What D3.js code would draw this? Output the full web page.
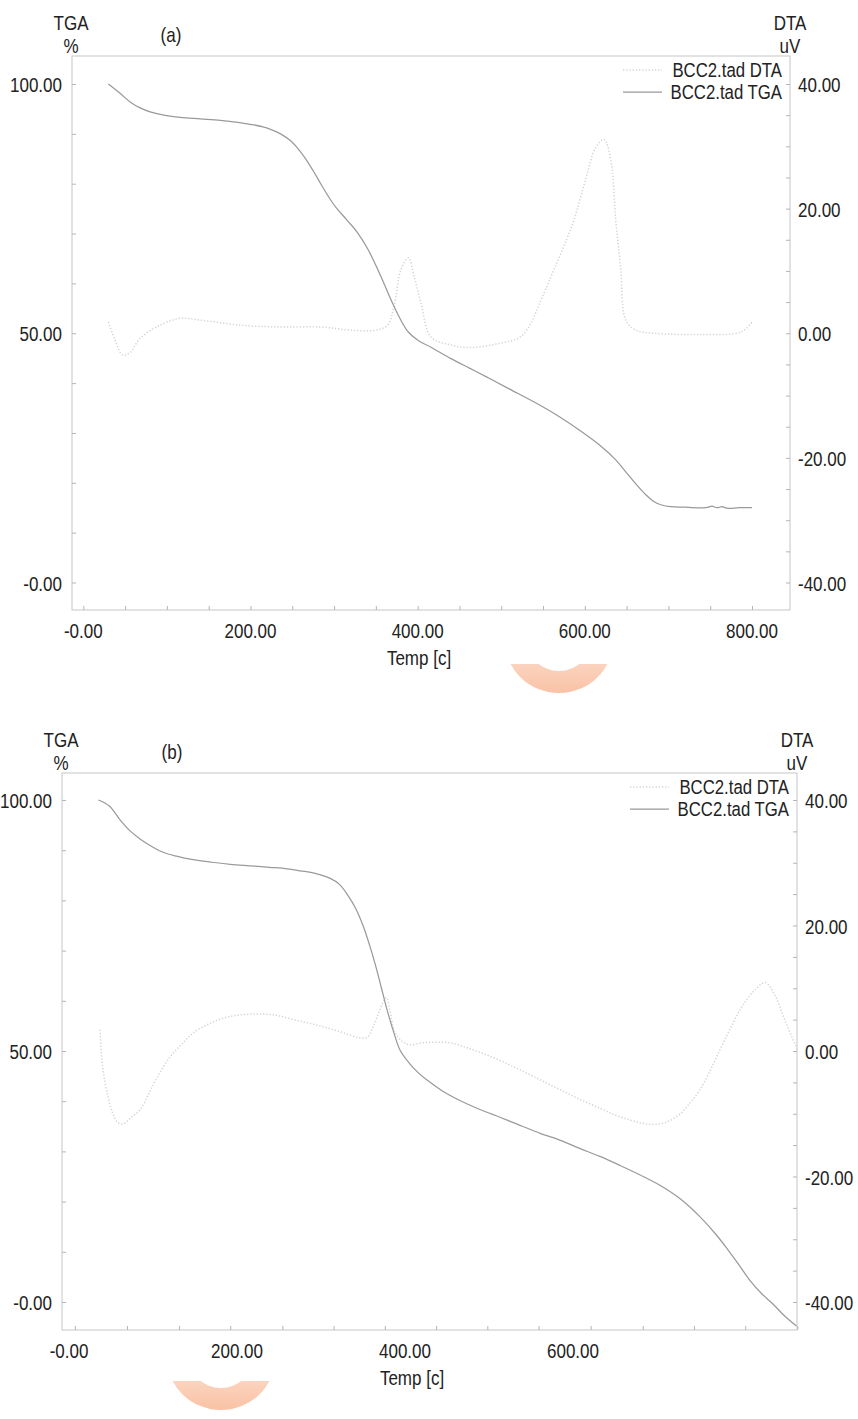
<!DOCTYPE html>
<html><head><meta charset="utf-8">
<script src="https://cdn.jsdelivr.net/npm/d3@7"></script>
<style>body{margin:0;background:#fff;} svg{display:block;}</style>
</head><body><svg id="c" width="858" height="1419"></svg>
<script>
// ---------- Panel (a) data ----------
const tempTgaA = [30,45,56,68,80,98,116,140,164,185,200,215,224,236,248,257,266,275,284,293,302,316,328,340,355,370,380,389,402,416,440,462,484,510,547,570,595,619,637,649,661,673,682,691,703,720,745,752,758,764,770,785,800];
const tgaA     = [100,98.0,96.4,95.2,94.4,93.7,93.3,93.0,92.7,92.3,91.9,91.4,90.9,90.0,88.6,87.0,85.0,82.6,80.0,77.5,75.3,72.6,70.2,67.0,61.8,56.0,52.6,50.2,48.4,47.2,44.9,43.0,41.1,38.8,35.5,33.2,30.4,27.4,24.6,22.2,19.8,17.6,16.3,15.6,15.2,15.1,15.0,15.3,15.0,15.2,14.9,15.0,15.0];
const tempDtaA = [30,38,47,56,68,92,116,140,188,236,284,320,350,364,372,380,389,396,404,416,440,463,499,523,535,544,553,563,575,587,601,613,623,631,637,643,649,661,683,739,787,800];
const dtaA     = [1.8,-1.1,-3.5,-3.1,-0.8,1.3,2.4,2.1,1.3,1.0,1.0,0.5,0.5,1.3,4.5,10.2,12.1,9.0,4.8,-0.6,-1.9,-2.3,-1.6,-0.6,1.5,4.2,7.0,10.2,14.0,18.2,24.7,29.8,31.1,27.9,18.2,10.2,2.1,0.5,0.0,-0.2,0.2,1.8];
const xLabelsA = [0,200,400,600,800];
const xTickTextA = ["-0.00","200.00","400.00","600.00","800.00"];
const xMinorA = [0,50,100,150,200,250,300,350,400,450,500,550,600,650,700,750,800];

// ---------- Panel (b) data ----------
const tempTgaB = [35,48,61,73,85,98,112,128,144,170,192,215,239,260,275,293,311,322,332,341,350,358,365,372,379,387,394,405,415,427,445,466,490,513,537,561,585,608,632,656,680,704,728,751,770,784,798,811,825,838,852,866];
const tgaB     = [100,98.8,96.0,93.8,92.2,90.8,89.6,88.8,88.2,87.6,87.2,86.9,86.6,86.3,85.9,85.4,84.4,83.2,81.0,78.5,75.0,71.0,67.0,62.5,58.0,53.5,50.2,47.6,45.8,44.1,42.0,40.1,38.3,36.8,35.2,33.6,32.2,30.6,29.0,27.2,25.3,23.2,20.5,17.0,13.5,10.5,7.3,4.2,1.6,-0.4,-2.8,-4.8];
const tempDtaB = [37,40,46,52,58,65,73,85,95,105,120,135,148,168,188,207,227,247,267,287,307,327,346,355,362,368,374,378,382,388,397,406,421,437,454,470,489,513,537,561,585,608,632,650,668,682,696,712,726,738,751,763,775,787,799,808,817,829,840,852,867];
const dtaB     = [3.4,-2.5,-7.0,-9.9,-11.4,-11.6,-10.7,-9.3,-6.8,-4.2,-1.0,1.2,2.9,4.4,5.4,5.8,5.9,5.7,5.0,4.4,3.7,2.9,2.1,2.2,3.8,5.8,7.8,8.5,6.5,3.0,1.5,1.0,1.3,1.4,1.3,0.7,-0.2,-1.5,-3.0,-4.6,-6.2,-7.7,-9.1,-10.2,-11.0,-11.5,-11.7,-11.3,-10.2,-8.5,-6.2,-3.2,0.2,3.5,6.6,8.4,9.8,10.9,9.0,5.0,0.2];
const xLabelsB = [0,200,400,600];
const xTickTextB = ["-0.00","200.00","400.00","600.00"];
const xMinorB = [7,69,131,192,254,315,376,437,498,559,621,683,744,805,867];

// ---------- shared axis values ----------
const tgaLabels = [0,50,100];
const tgaTickText = ["-0.00","50.00","100.00"];
const tgaMinor = [0,10,20,30,40,50,60,70,80,90,100];
const dtaLabels = [-40,-20,0,20,40];
const dtaTickText = ["-40.00","-20.00","0.00","20.00","40.00"];
const dtaMinor = d3.range(-40,41,5);
const legendNames = ["BCC2.tad DTA","BCC2.tad TGA"];

const svg = d3.select("#c");
const FONT = "'Liberation Sans', Arial, sans-serif";
function txt(g, x, y, s, anchor, fs, sx) {
  fs = fs || 21; sx = sx || 0.81;
  g.append("text")
    .attr("transform", `translate(${x},${y}) scale(${sx},1)`)
    .attr("text-anchor", anchor || "middle")
    .attr("font-family", FONT).attr("font-size", fs).attr("fill", "#222")
    .text(s);
}

const defs = svg.append("defs");
const grad = defs.append("linearGradient").attr("id","og").attr("x1",0).attr("y1",0).attr("x2",0).attr("y2",1)
  .attr("gradientUnits","objectBoundingBox");
grad.append("stop").attr("offset","0.45").attr("stop-color","#fde6da");
grad.append("stop").attr("offset","1").attr("stop-color","#f9c2a5");

function panel(cfg) {
  const {L, T, R, B} = cfg;
  const g = svg.append("g");
  const x = d3.scaleLinear().domain(cfg.xDom).range(cfg.xRng);
  const yT = d3.scaleLinear().domain([0,100]).range(cfg.yRng);
  const yD = d3.scaleLinear().domain([-40,40]).range(cfg.yRng);

  // frame
  g.append("rect").attr("x",L).attr("y",T).attr("width",R-L).attr("height",B-T)
    .attr("fill","none").attr("stroke","#cfcfcf").attr("stroke-width",1.2);

  // ticks
  const styleAxis = a => { a.select(".domain").remove(); a.selectAll("line").attr("stroke","#b5b5b5"); };
  g.append("g").attr("transform",`translate(0,${B})`)
    .call(d3.axisBottom(x).tickValues(cfg.xMinor).tickSize(-4).tickFormat("")).call(styleAxis);
  g.append("g").attr("transform",`translate(${L},0)`)
    .call(d3.axisLeft(yT).tickValues(tgaMinor).tickSize(-4).tickFormat("")).call(styleAxis);
  g.append("g").attr("transform",`translate(${R},0)`)
    .call(d3.axisRight(yD).tickValues(dtaMinor).tickSize(-4).tickFormat("")).call(styleAxis);

  // tick labels
  tgaLabels.forEach((v,i) => txt(g, L-10, yT(v)+8, tgaTickText[i], "end"));
  dtaLabels.forEach((v,i) => txt(g, R+8, yD(v)+8, dtaTickText[i], "start"));
  cfg.xLabels.forEach((v,i) => txt(g, x(v), B+28, cfg.xTickText[i], "middle"));

  // titles
  txt(g, L-1, T-26, "TGA");
  txt(g, L-1, T-3, "%");
  txt(g, R, T-26, "DTA");
  txt(g, R, T-3, "uV");
  txt(g, cfg.tagX, T-14, cfg.tag);
  txt(g, cfg.xTitleX, B+55, "Temp [c]");

  // curves
  const lineT = d3.line().x(d => x(d[0])).y(d => yT(d[1])).curve(d3.curveCatmullRom.alpha(0.5));
  const lineD = d3.line().x(d => x(d[0])).y(d => yD(d[1])).curve(d3.curveCatmullRom.alpha(0.5));
  g.append("path").datum(d3.zip(cfg.tDta, cfg.dta)).attr("d", lineD)
    .attr("fill","none").attr("stroke","#d4d4d4").attr("stroke-width",1.5).attr("stroke-dasharray","1.3 1.9");
  g.append("path").datum(d3.zip(cfg.tTga, cfg.tga)).attr("d", lineT)
    .attr("fill","none").attr("stroke","#9a9a9a").attr("stroke-width",1.25);

  // legend
  txt(g, R-8, T+21, legendNames[0], "end", 19.5, 0.86);
  txt(g, R-8, T+43, legendNames[1], "end", 19.5, 0.86);
  g.append("line").attr("x1",R-167).attr("x2",R-128).attr("y1",T+14).attr("y2",T+14)
    .attr("stroke","#d4d4d4").attr("stroke-width",1.5).attr("stroke-dasharray","1.3 1.9");
  g.append("line").attr("x1",R-167).attr("x2",R-128).attr("y1",T+36).attr("y2",T+36)
    .attr("stroke","#9a9a9a").attr("stroke-width",1.25);

  // decorative peach half-ring under the axis
  const cid = "clip" + cfg.tag.replace(/\W/g,"");
  defs.append("clipPath").attr("id",cid).append("rect")
    .attr("x",cfg.ring[0]-70).attr("y",cfg.ring[2]).attr("width",140).attr("height",80);
  g.append("g").attr("clip-path",`url(#${cid})`)
    .append("path")
    .attr("transform",`translate(${cfg.ring[0]},${cfg.ring[1]})`)
    .attr("d", d3.arc()({innerRadius:33, outerRadius:55, startAngle:0, endAngle:2*Math.PI}))
    .attr("fill","url(#og)");
}

panel({L:72, T:56, R:790, B:610, xDom:[0,800], xRng:[83.3,752], yRng:[582.5,84],
  xMinor:xMinorA, xLabels:xLabelsA, xTickText:xTickTextA, tag:"(a)", tagX:171, xTitleX:419,
  tTga:tempTgaA, tga:tgaA, tDta:tempDtaA, dta:dtaA, ring:[559,638,664]});
panel({L:62, T:773, R:797, B:1330, xDom:[0,600], xRng:[69,573], yRng:[1302,800],
  xMinor:xMinorB, xLabels:xLabelsB, xTickText:xTickTextB, tag:"(b)", tagX:172, xTitleX:412,
  tTga:tempTgaB, tga:tgaB, tDta:tempDtaB, dta:dtaB, ring:[221,1355,1381]});
</script></body></html>
